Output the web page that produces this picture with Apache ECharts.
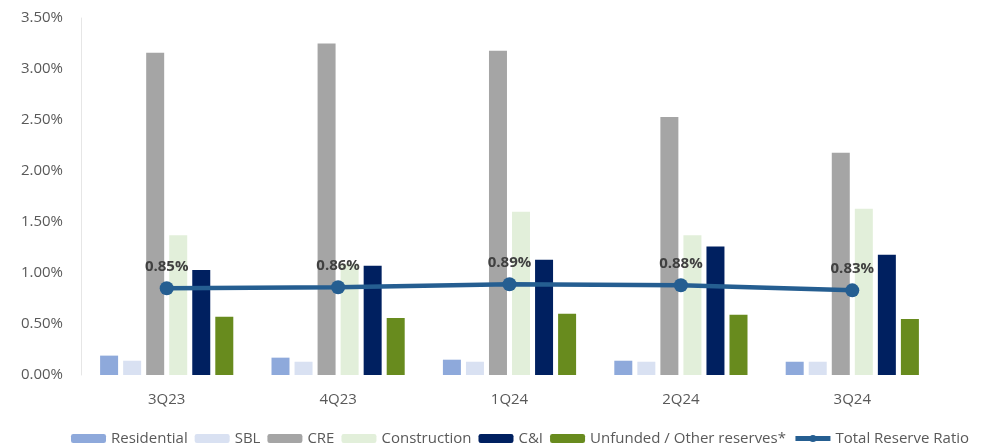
<!DOCTYPE html>
<html>
<head>
<meta charset="utf-8">
<script src="https://cdn.jsdelivr.net/npm/echarts@6/dist/echarts.min.js"></script>
<style>
html,body{margin:0;padding:0;background:#fff;}
#chart{width:991px;height:447px;}
</style>
</head>
<body>
<div id="chart"></div>
<script>
const categories = ['3Q23', '4Q23', '1Q24', '2Q24', '3Q24'];
const residential = [0.19, 0.17, 0.15, 0.14, 0.13];
const sbl = [0.14, 0.13, 0.13, 0.13, 0.13];
const cre = [3.16, 3.25, 3.18, 2.53, 2.18];
const construction = [1.37, 1.09, 1.60, 1.37, 1.63];
const cni = [1.03, 1.07, 1.13, 1.26, 1.18];
const unfunded = [0.57, 0.56, 0.60, 0.59, 0.55];
const totalReserveRatio = [0.85, 0.86, 0.89, 0.88, 0.83];
const yTicks = { min: 0, max: 3.5, interval: 0.5 };

const FONT = '"Open Sans", "Noto Sans", sans-serif';
const chart = echarts.init(document.getElementById('chart'));

function bar(name, data, color) {
  return {
    name: name, type: 'bar', data: data,
    barWidth: 18, barGap: '28%',
    itemStyle: { color: color },
    emphasis: { disabled: true },
    z: 2
  };
}

chart.setOption({
  animation: false,
  backgroundColor: '#ffffff',
  textStyle: { fontFamily: FONT },
  grid: { left: 81, right: 53, top: 18, bottom: 72, containLabel: false, outerBoundsMode: 'none' },
  legend: {
    left: 66, top: 426,
    itemWidth: 35, itemHeight: 9, itemGap: 7,
    textStyle: { fontFamily: FONT, fontSize: 15, color: '#595959' },
    data: ['Residential', 'SBL', 'CRE', 'Construction', 'C&I', 'Unfunded / Other reserves*',
      { name: 'Total Reserve Ratio', lineStyle: { width: 5 } }]
  },
  xAxis: {
    type: 'category', data: categories,
    axisLine: { show: false }, axisTick: { show: false },
    axisLabel: { color: '#595959', fontSize: 15, fontFamily: FONT, margin: 17 }
  },
  yAxis: {
    type: 'value', min: yTicks.min, max: yTicks.max, interval: yTicks.interval,
    splitLine: { show: false },
    axisLine: { show: true, lineStyle: { color: '#E6E6E6', width: 1 } },
    axisTick: { show: false },
    axisLabel: { color: '#595959', fontSize: 15, fontFamily: FONT, margin: 18,
      formatter: v => v.toFixed(2) + '%' }
  },
  series: [
    bar('Residential', residential, '#8EA9DB'),
    bar('SBL', sbl, '#D9E1F2'),
    bar('CRE', cre, '#A5A5A5'),
    bar('Construction', construction, '#E2EFDA'),
    bar('C&I', cni, '#002060'),
    bar('Unfunded / Other reserves*', unfunded, '#688B1E'),
    {
      name: 'Total Reserve Ratio', type: 'line', data: totalReserveRatio,
      symbol: 'circle', symbolSize: 14,
      lineStyle: { color: '#255E91', width: 4.5 },
      itemStyle: { color: '#255E91' },
      z: 5,
      label: { show: true, position: 'top', distance: 7,
        color: '#404040', fontWeight: 'bold', fontSize: 15, fontFamily: FONT,
        formatter: p => p.value.toFixed(2) + '%' },
      emphasis: { disabled: true }
    }
  ]
});
</script>
</body>
</html>
